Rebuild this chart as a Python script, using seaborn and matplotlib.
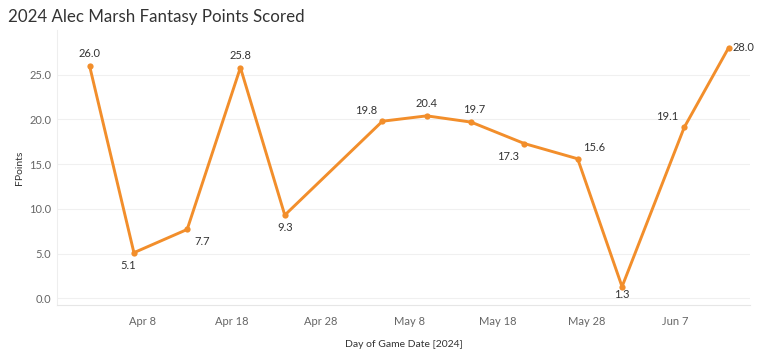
import matplotlib
matplotlib.use("Agg")
import matplotlib.pyplot as plt
import seaborn as sns
import pandas as pd

dates = ["2024-04-02", "2024-04-07", "2024-04-13", "2024-04-19", "2024-04-24",
         "2024-05-05", "2024-05-10", "2024-05-15", "2024-05-21", "2024-05-27",
         "2024-06-01", "2024-06-08", "2024-06-13"]
fpoints = [26.0, 5.1, 7.7, 25.8, 9.3, 19.8, 20.4, 19.7, 17.3, 15.6, 1.3, 19.1, 28.0]
# label placement: (dx points, dy points, ha, va)
label_pos = [(0, 5, "center", "bottom"), (-4, -5, "center", "top"), (5, -5, "left", "top"),
             (0, 5, "center", "bottom"), (0, -5, "center", "top"), (-4, 4, "right", "bottom"),
             (0, 5, "center", "bottom"), (2, 5, "center", "bottom"), (-4, -5, "right", "top"),
             (4, 4, "left", "bottom"), (0, -2, "center", "top"), (-4, 4, "right", "bottom"),
             (3, 0, "left", "center")]
yticks = [0, 5, 10, 15, 20, 25]
xticks = ["2024-04-08", "2024-04-18", "2024-04-28", "2024-05-08", "2024-05-18",
          "2024-05-28", "2024-06-07"]

df = pd.DataFrame({"date": pd.to_datetime(dates), "FPoints": fpoints})

sns.set_theme(style="white")
plt.rcParams["font.family"] = ["Lato", "DejaVu Sans"]

fig = plt.figure(figsize=(7.57, 3.53), dpi=100)
ax = fig.add_axes([57 / 757, 1 - 305 / 353, (750 - 57) / 757, (305 - 30) / 353])

orange = "#F28E2B"
sns.lineplot(data=df, x="date", y="FPoints", ax=ax, color=orange, linewidth=2.1,
             marker="o", markersize=4.5, markeredgewidth=0, zorder=3)

for d, v, (dx, dy, ha, va) in zip(df["date"], fpoints, label_pos):
    ax.annotate(f"{v:.1f}", (d, v), xytext=(dx, dy), textcoords="offset points",
                ha=ha, va=va, fontsize=8, color="#333333", zorder=4)

ax.set_ylim(-0.75, 30.0)
ax.set_xlim(pd.Timestamp("2024-03-29 08:00"), pd.Timestamp("2024-06-15 10:00"))
ax.set_yticks(yticks)
ax.set_yticklabels([f"{t:.1f}" for t in yticks])
xt = pd.to_datetime(xticks)
ax.set_xticks(xt)
ax.set_xticklabels([f"{d.strftime('%b')} {d.day}" for d in xt])

ax.grid(axis="y", color="#f0f0f0", linewidth=0.8)
ax.grid(axis="x", visible=False)
for s in ["top", "right"]:
    ax.spines[s].set_visible(False)
ax.spines["left"].set_color("#eeeeee")
ax.spines["bottom"].set_color("#e6e6e6")
ax.spines["left"].set_linewidth(0.8)
ax.spines["bottom"].set_linewidth(0.8)
ax.tick_params(axis="both", length=0, labelsize=8, colors="#666666", pad=8)
ax.tick_params(axis="y", pad=4)

ax.set_xlabel("Day of Game Date [2024]", fontsize=7.5, color="#333333", labelpad=9)
ax.set_ylabel("FPoints", fontsize=7.5, color="#333333", labelpad=4)

fig.text(8 / 757, 1 - 17 / 353, "2024 Alec Marsh Fantasy Points Scored",
         fontsize=12.2, color="#333333", ha="left", va="center")

fig.savefig("out.png", dpi=100)
